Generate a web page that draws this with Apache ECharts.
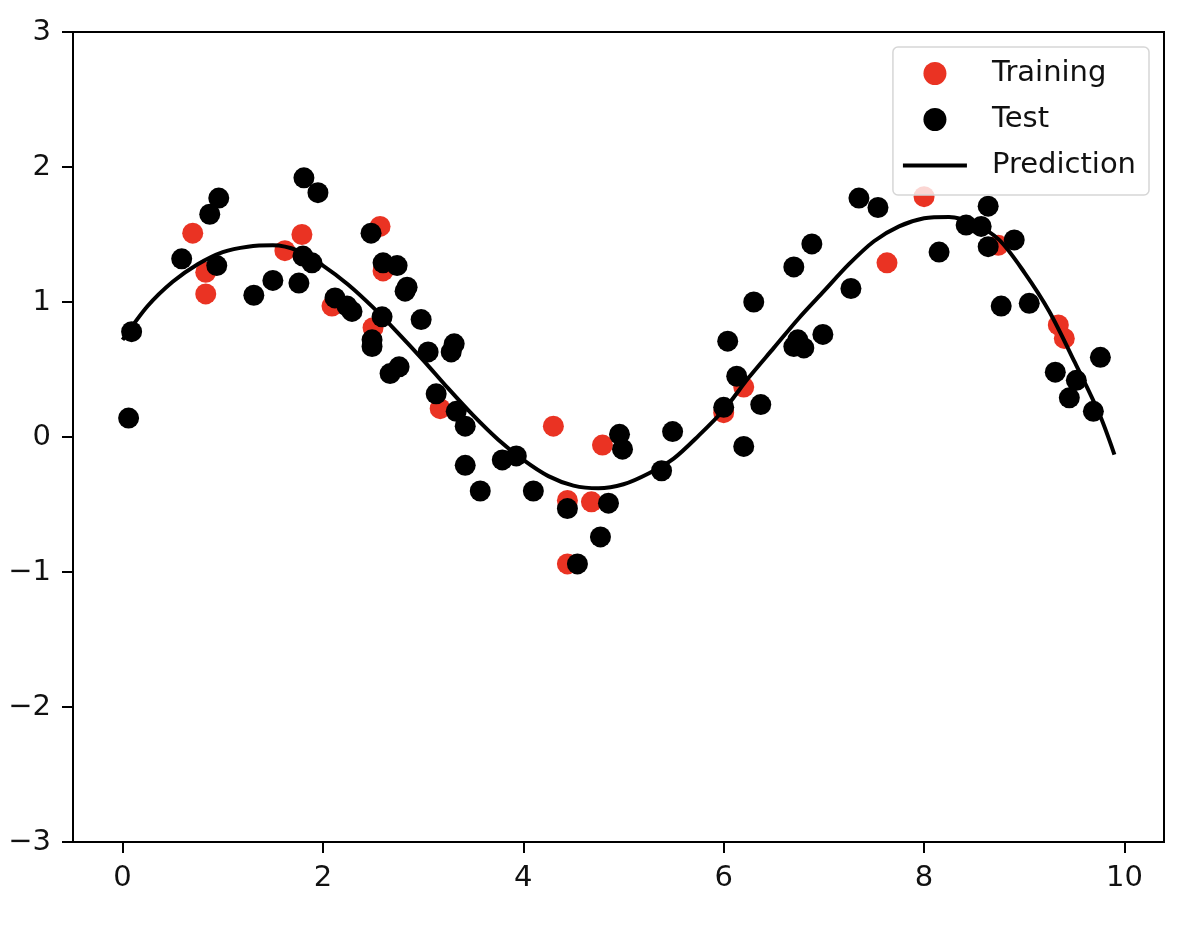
<!DOCTYPE html>
<html>
<head>
<meta charset="utf-8">
<script src="https://cdn.jsdelivr.net/npm/echarts@6/dist/echarts.min.js"></script>
<style>
  html, body { margin: 0; padding: 0; background: #fff; }
  #main { width: 1196px; height: 934px; }
</style>
</head>
<body>
<div id="main"></div>
<script>
// training points (red)
const trainX = [0.70, 0.83, 0.83, 1.62, 1.79, 2.09, 2.57, 2.60, 2.50, 3.17, 4.30, 4.44, 4.68, 4.79, 4.44, 6.00, 6.20, 7.63, 8.00, 8.74, 9.34, 9.40];
const trainY = [1.51, 1.22, 1.06, 1.38, 1.50, 0.97, 1.56, 1.23, 0.81, 0.21, 0.08, -0.47, -0.48, -0.06, -0.94, 0.18, 0.37, 1.29, 1.78, 1.42, 0.83, 0.73];

// test points (black)
const testX = [0.06, 0.09, 0.59, 0.87, 0.96, 0.94, 1.31, 1.50, 1.76, 1.80, 1.89, 1.81, 1.95, 2.12, 2.24, 2.29, 2.48, 2.49, 2.49, 2.59,
  2.60, 2.74, 2.82, 2.84, 2.67, 2.76, 2.98, 3.05, 3.28, 3.31, 3.13, 3.33, 3.42, 3.42, 3.57, 3.79, 3.93, 4.10, 4.44, 4.54,
  4.77, 4.85, 4.96, 4.99, 5.38, 5.49, 6.00, 6.04, 6.13, 6.20, 6.30, 6.37, 6.70, 6.80, 6.74, 6.70, 6.88, 6.99, 7.27, 7.35,
  7.54, 8.15, 8.42, 8.57, 8.64, 8.64, 8.90, 8.77, 9.05, 9.31, 9.45, 9.52, 9.69, 9.76];
const testY = [0.14, 0.78, 1.32, 1.65, 1.77, 1.27, 1.05, 1.16, 1.14, 1.34, 1.29, 1.92, 1.81, 1.03, 0.97, 0.93, 1.51, 0.72, 0.67, 0.89,
  1.29, 1.27, 1.08, 1.11, 0.47, 0.52, 0.87, 0.63, 0.63, 0.69, 0.32, 0.19, 0.08, -0.21, -0.40, -0.17, -0.14, -0.40, -0.53, -0.94,
  -0.74, -0.49, 0.02, -0.09, -0.25, 0.04, 0.22, 0.71, 0.45, -0.07, 1.00, 0.24, 0.67, 0.66, 0.72, 1.26, 1.43, 0.76, 1.10, 1.77,
  1.70, 1.37, 1.57, 1.56, 1.71, 1.41, 1.46, 0.97, 0.99, 0.48, 0.29, 0.42, 0.19, 0.59];

// prediction curve
const predX = [0, 0.25, 0.5, 0.75, 1.0, 1.25, 1.5, 1.75, 2.0, 2.25, 2.5, 2.75, 3.0, 3.25, 3.5, 3.75, 4.0, 4.25, 4.5, 4.75,
  5.0, 5.25, 5.5, 5.75, 6.0, 6.25, 6.5, 6.75, 7.0, 7.25, 7.5, 7.75, 8.0, 8.25, 8.5, 8.75, 9.0, 9.25, 9.5, 9.75, 9.9];
const predY = [0.72, 0.97, 1.15, 1.28, 1.37, 1.41, 1.42, 1.38, 1.27, 1.13, 0.96, 0.77, 0.57, 0.36, 0.16, -0.02, -0.17, -0.29, -0.36, -0.38,
  -0.35, -0.27, -0.16, 0.01, 0.20, 0.44, 0.66, 0.88, 1.08, 1.28, 1.45, 1.56, 1.62, 1.63, 1.58, 1.46, 1.22, 0.93, 0.56, 0.17, -0.13];

const xTicks = [0, 2, 4, 6, 8, 10];

const zip = (xs, ys) => xs.map((x, i) => [x, ys[i]]);
const fmt = v => (v < 0 ? '\u2212' + Math.abs(v) : String(v));

const font = 'DejaVu Sans';
const axisCommon = {
    splitLine: { show: false },
    axisLine: { show: true, onZero: false, lineStyle: { color: '#000', width: 2 } }
};

let option = {
    animation: false,
    textStyle: { fontFamily: font },
    grid: {
        left: 73, right: 32, top: 32, bottom: 92,
        show: true,
        borderColor: '#000',
        borderWidth: 2
    },
    legend: {
        right: 47,
        top: 47,
        orient: 'vertical',
        padding: [12, 13, 15, 10],
        itemWidth: 64,
        itemHeight: 23,
        itemGap: 17,
        backgroundColor: 'rgba(255,255,255,0.8)',
        borderColor: '#d6d6d6',
        borderWidth: 1.5,
        borderRadius: 5,
        textStyle: { fontFamily: font, fontSize: 29, color: '#111', padding: [0, 0, 0, 20] },
        data: [
            { name: 'Training', icon: 'circle' },
            { name: 'Test', icon: 'circle' },
            { name: 'Prediction', icon: 'path://M0,0 L64,0 L64,4 L0,4 Z', itemStyle: { color: '#000' } }
        ]
    },
    xAxis: Object.assign({}, axisCommon, {
        type: 'value',
        min: -0.495,
        max: 10.395,
        axisTick: { show: true, customValues: xTicks, length: 11, lineStyle: { color: '#000', width: 2 } },
        axisLabel: { customValues: xTicks, margin: 22, fontSize: 29, color: '#111', fontFamily: font, formatter: fmt }
    }),
    yAxis: Object.assign({}, axisCommon, {
        type: 'value',
        min: -3,
        max: 3,
        interval: 1,
        axisTick: { show: true, length: 11, lineStyle: { color: '#000', width: 2 } },
        axisLabel: { margin: 22, fontSize: 29, color: '#111', fontFamily: font, formatter: fmt }
    }),
    series: [
        {
            name: 'Training',
            type: 'scatter',
            symbol: 'circle',
            symbolSize: 21,
            itemStyle: { color: '#ea3323', opacity: 1 },
            data: zip(trainX, trainY)
        },
        {
            name: 'Test',
            type: 'scatter',
            symbol: 'circle',
            symbolSize: 21,
            itemStyle: { color: '#000', opacity: 1 },
            data: zip(testX, testY)
        },
        {
            name: 'Prediction',
            type: 'line',
            smooth: 0.3,
            showSymbol: false,
            symbol: 'none',
            lineStyle: { color: '#000', width: 4 },
            itemStyle: { color: '#000' },
            data: zip(predX, predY)
        }
    ]
};

var myChart = echarts.init(document.getElementById('main'));
myChart.setOption(option);
</script>
</body>
</html>
